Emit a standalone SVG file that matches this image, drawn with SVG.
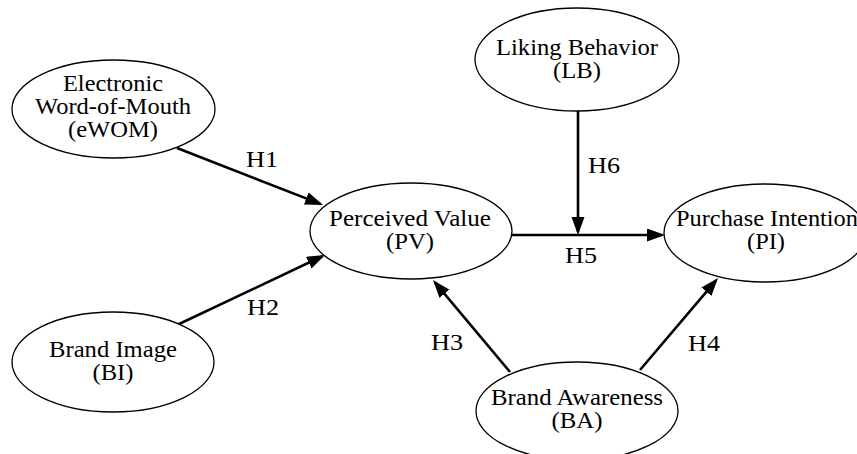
<svg xmlns="http://www.w3.org/2000/svg" width="857" height="454" viewBox="0 0 857 454" font-family="Liberation Serif, serif">
<style>
.node ellipse{fill:#fff;stroke:#000;stroke-width:1.3}
text{font-family:'Liberation Serif','Times New Roman',serif;font-size:23px;fill:#000;text-anchor:middle}
.edge line{stroke:#000;stroke-width:2.6}
</style>
<defs>
<marker id="ah" markerUnits="userSpaceOnUse" markerWidth="18" markerHeight="14" refX="15" refY="6.5" orient="auto">
<path d="M0,0 L18,6.5 L0,13 z" fill="#000"/>
</marker>
</defs>
<rect width="857" height="454" fill="#fff"/>
<g class="edge" id="connectors">
<line x1="177" y1="148" x2="320.2" y2="203.9" marker-end="url(#ah)"/>
<line x1="177" y1="325" x2="322.3" y2="256.3" marker-end="url(#ah)"/>
<line x1="510" y1="372" x2="434.9" y2="282.3" marker-end="url(#ah)"/>
<line x1="640" y1="370" x2="716.1" y2="280.3" marker-end="url(#ah)"/>
<line x1="512" y1="235" x2="662" y2="235" marker-end="url(#ah)"/>
<line x1="578" y1="111" x2="578" y2="232" marker-end="url(#ah)"/>
<text x="262" y="167" textLength="32" lengthAdjust="spacingAndGlyphs">H1</text>
<text x="263" y="315" textLength="32" lengthAdjust="spacingAndGlyphs">H2</text>
<text x="447" y="350" textLength="32" lengthAdjust="spacingAndGlyphs">H3</text>
<text x="704" y="351" textLength="32" lengthAdjust="spacingAndGlyphs">H4</text>
<text x="581" y="263" textLength="32" lengthAdjust="spacingAndGlyphs">H5</text>
<text x="604" y="173" textLength="32" lengthAdjust="spacingAndGlyphs">H6</text>
</g>
<g class="node" id="eWOM">
<ellipse cx="113.5" cy="109" rx="101.5" ry="49"/>
<text x="113" y="91" textLength="100" lengthAdjust="spacingAndGlyphs">Electronic</text>
<text x="113" y="114" textLength="156" lengthAdjust="spacingAndGlyphs">Word-of-Mouth</text>
<text x="113" y="137" textLength="90" lengthAdjust="spacingAndGlyphs">(eWOM)</text>
</g>
<g class="node" id="BI">
<ellipse cx="113" cy="362" rx="101" ry="50"/>
<text x="113" y="357" textLength="128" lengthAdjust="spacingAndGlyphs">Brand Image</text>
<text x="113" y="380" textLength="41" lengthAdjust="spacingAndGlyphs">(BI)</text>
</g>
<g class="node" id="PV">
<ellipse cx="411" cy="231" rx="101" ry="48"/>
<text x="410" y="226" textLength="162" lengthAdjust="spacingAndGlyphs">Perceived Value</text>
<text x="410" y="249" textLength="48" lengthAdjust="spacingAndGlyphs">(PV)</text>
</g>
<g class="node" id="LB">
<ellipse cx="577" cy="59.5" rx="102" ry="51.5"/>
<text x="577" y="55" textLength="162" lengthAdjust="spacingAndGlyphs">Liking Behavior</text>
<text x="577" y="78" textLength="48" lengthAdjust="spacingAndGlyphs">(LB)</text>
</g>
<g class="node" id="PI">
<ellipse cx="765" cy="233" rx="101" ry="49"/>
<text x="767" y="226" textLength="182" lengthAdjust="spacingAndGlyphs">Purchase Intention</text>
<text x="766" y="249" textLength="38" lengthAdjust="spacingAndGlyphs">(PI)</text>
</g>
<g class="node" id="BA">
<ellipse cx="577" cy="411" rx="101" ry="49"/>
<text x="577" y="405" textLength="172" lengthAdjust="spacingAndGlyphs">Brand Awareness</text>
<text x="577" y="428" textLength="51" lengthAdjust="spacingAndGlyphs">(BA)</text>
</g>
</svg>
